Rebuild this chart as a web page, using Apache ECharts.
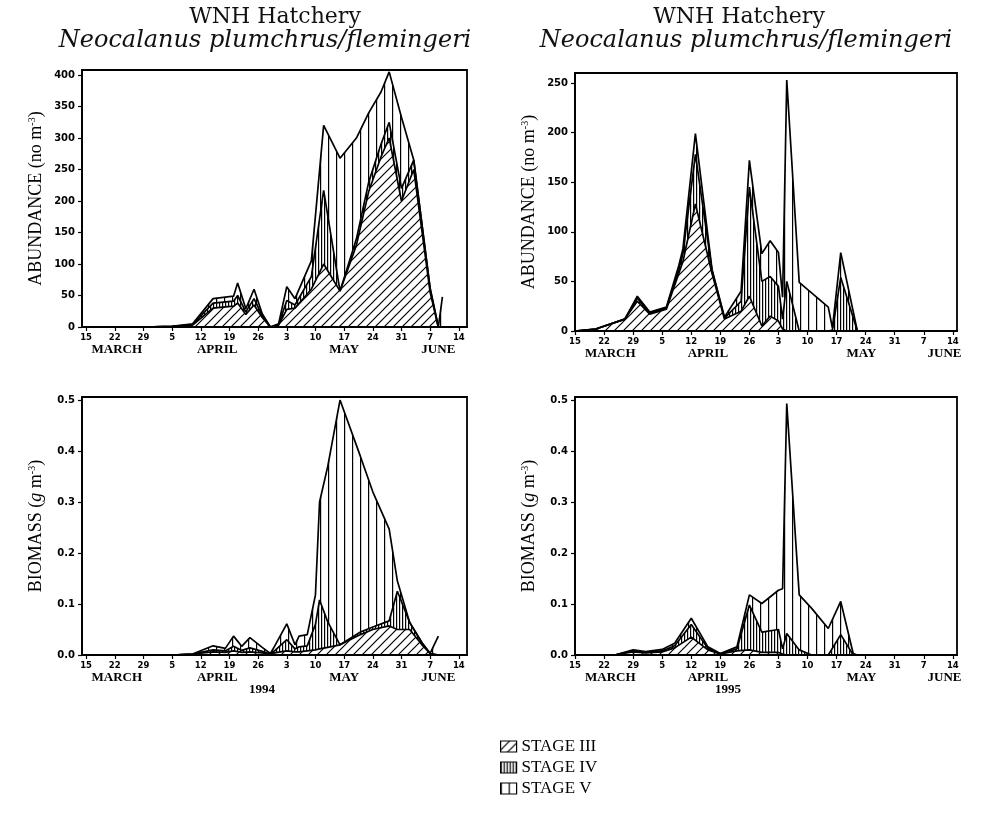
<!DOCTYPE html>
<html><head><meta charset="utf-8">
<script src="https://cdn.jsdelivr.net/npm/echarts@6/dist/echarts.min.js"></script>
<style>html,body{margin:0;padding:0;background:#fff}#c{width:990px;height:828px}</style>
</head><body><div id="c"></div>
<script>
// ---------- data ----------
const stages = ['STAGE III', 'STAGE IV', 'STAGE V'];
const tickDays = [0, 7, 14, 21, 28, 35, 42, 49, 56, 63, 70, 77, 84, 91];   // days since 15 March
const tickLabels = ['15', '22', '29', '5', '12', '19', '26', '3', '10', '17', '24', '31', '7', '14'];
const months = ['MARCH', 'APRIL', 'MAY', 'JUNE'];
const monthDays94 = [7.5, 32, 63, 86];
const monthDays95 = [8.5, 32, 69, 89];
const abundTicks94 = [0, 50, 100, 150, 200, 250, 300, 350, 400];
const abundTicks95 = [0, 50, 100, 150, 200, 250];
const bioTicks = [0, 0.1, 0.2, 0.3, 0.4, 0.5];

// 1994 abundance (no m-3), days since 15 March
const days94A = [0, 7, 14, 21, 26, 31, 36, 37, 39, 41, 43, 45, 47, 49, 51, 55, 58, 62, 66, 69, 72, 74, 77, 80, 84, 86, 87];
const abund94_III = [0,0,0,1,3,30,33,38,20,35,15,0,3,28,30,60,100,57,130,215,270,300,200,250,55,0,0];
const abund94_IV  = [0,0,0,0,1,8,8,12,4,10,3,0,1,14,5,20,117,0,10,15,20,25,20,15,5,0,0];
const abund94_V   = [0,0,0,0,1,7,8,20,5,15,3,0,1,22,10,25,103,211,160,110,83,80,113,0,2,0,48];

// 1994 biomass (g m-3)
const days94B = [0, 7, 14, 21, 26, 31, 34, 36, 38, 40, 43, 45, 46, 49, 51, 52, 54, 56, 57, 59, 62, 67, 70, 74, 76, 79, 82, 84, 86];
const bio94_III = [0,0,0,0,0.002,0.006,0.005,0.008,0.005,0.006,0.004,0.001,0.004,0.008,0.006,0.006,0.008,0.01,0.012,0.015,0.02,0.04,0.05,0.057,0.05,0.05,0.02,0.003,0];
const bio94_IV  = [0,0,0,0,0,0.004,0.003,0.009,0.004,0.008,0.003,0.001,0.004,0.022,0.006,0.01,0.01,0.05,0.096,0.05,0,0.005,0.005,0.01,0.075,0.014,0.004,0,0];
const bio94_V   = [0,0,0,0,0,0.008,0.005,0.02,0.008,0.02,0.008,0.001,0.009,0.031,0.008,0.021,0.022,0.058,0.192,0.305,0.48,0.344,0.265,0.18,0.02,0,0,0,0.037];

// 1995 abundance
const days95A = [0, 5, 12, 15, 18, 22, 25, 26, 29, 33, 36, 40, 42, 45, 47, 49, 50, 51, 54, 61, 62, 64, 68, 91];
const abund95_III = [0,2,12,30,17,22,58,70,128,58,12,20,35,5,15,10,2,0,0,0,0,0,0,0];
const abund95_IV  = [0,0,0,3,1,1,4,8,50,3,1,10,110,45,40,35,10,50,0,0,1,54,0,0];
const abund95_V   = [0,0,0,2,1,1,4,5,21,1,1,10,27,28,36,34,22,203,49,24,2,25,0,0];

// 1995 biomass
const days95B = [0, 10, 14, 17, 21, 24, 28, 32, 35, 39, 42, 45, 49, 50, 51, 54, 57, 61, 64, 67, 68, 91];
const bio95_III = [0,0.001,0.006,0.004,0.006,0.014,0.035,0.01,0.002,0.008,0.01,0.005,0.005,0.002,0,0,0,0,0,0,0,0];
const bio95_IV  = [0,0,0.002,0.001,0.002,0.004,0.025,0.003,0.0005,0.004,0.088,0.04,0.045,0.01,0.042,0.01,0,0,0.04,0,0,0];
const bio95_V   = [0,0,0.002,0.0015,0.003,0.005,0.012,0.003,0.0005,0.004,0.02,0.056,0.077,0.118,0.451,0.108,0.0915,0.052,0.065,0.003,0,0];

// ---------- helpers ----------
function hatch(kind) {
  const c = document.createElement('canvas');
  const g = c.getContext('2d');
  if (kind === 'diag') {
    const s = 9; c.width = s; c.height = s;
    g.strokeStyle = '#000'; g.lineWidth = 1.2;
    g.beginPath();
    g.moveTo(-1, s + 1); g.lineTo(s + 1, -1);
    g.moveTo(-2, 2); g.lineTo(2, -2);
    g.moveTo(s - 2, s + 2); g.lineTo(s + 2, s - 2);
    g.stroke();
  } else {
    const w = kind === 'dense' ? 3 : 8; c.width = w; c.height = 4;
    g.fillStyle = '#000'; g.fillRect(0, 0, 1.2, 4);
  }
  return { image: c, repeat: 'repeat' };
}
const patterns = [hatch('diag'), hatch('dense'), hatch('sparse')];

const font = 'DejaVu Sans';
const serif = 'Liberation Serif';

function xAxes(gridIndex, min, max, monthDays) {
  return [{
    type: 'value', gridIndex, min, max,
    axisLine: { show: true, onZero: false, lineStyle: { color: '#000', width: 1.8 } },
    axisTick: { show: true, inside: false, length: 4, lineStyle: { color: '#000', width: 1.2 }, customValues: tickDays },
    axisLabel: {
      customValues: tickDays, margin: 6,
      fontFamily: font, fontSize: 8.5, fontWeight: 'bold', color: '#000',
      formatter: v => tickLabels[tickDays.indexOf(Math.round(v))] || ''
    },
    splitLine: { show: false }
  }, {
    type: 'value', gridIndex, min, max, position: 'bottom',
    axisLine: { show: false }, axisTick: { show: false }, splitLine: { show: false },
    axisLabel: {
      customValues: monthDays, margin: 16,
      fontFamily: serif, fontSize: 13, fontWeight: 'bold', color: '#000',
      formatter: v => { let k = 0, best = 1e9; monthDays.forEach((m, i) => { if (Math.abs(m - v) < best) { best = Math.abs(m - v); k = i; } }); return months[k]; }
    }
  }];
}

function yAxis(gridIndex, max, ticks, name, isBio) {
  return {
    type: 'value', gridIndex, min: 0, max,
    name, nameLocation: 'middle', nameGap: 37, nameRotate: 90,
    nameTextStyle: {
      fontFamily: serif, fontSize: 18, color: '#000',
      rich: {
        s: { fontFamily: serif, fontSize: 10, color: '#000', verticalAlign: 'top', padding: [0, 0, 7, 0] },
        i: { fontFamily: serif, fontSize: 18, fontStyle: 'italic', color: '#000' }
      }
    },
    axisLine: { show: true, onZero: false, lineStyle: { color: '#000', width: 1.8 } },
    axisTick: { show: true, inside: false, length: 4, lineStyle: { color: '#000', width: 1.2 }, customValues: ticks },
    axisLabel: {
      customValues: ticks, margin: 7, fontFamily: font, fontSize: 10, fontWeight: 'bold', color: '#000',
      formatter: v => isBio ? v.toFixed(1) : String(v)
    },
    splitLine: { show: false }
  };
}

// data rows are [value, day] so that the stack is applied to the value dimension
function stageSeries(gridIndex, days, vals, stack) {
  return stages.map((name, k) => ({
    type: 'line', name, stack,
    xAxisIndex: gridIndex * 2, yAxisIndex: gridIndex,
    data: days.map((d, i) => [vals[k][i], d]),
    encode: { x: 1, y: 0 },
    symbol: 'none', showSymbol: false,
    lineStyle: { color: '#000', width: 1.7 },
    itemStyle: { color: '#000' },
    areaStyle: { color: patterns[k], opacity: 1 },
    emphasis: { disabled: true },
    animation: false
  }));
}

const titleStyle = { fontFamily: 'DejaVu Serif', fontSize: 22, fontWeight: 'normal', color: '#111' };
const subStyle = { fontFamily: 'DejaVu Serif', fontSize: 24, fontStyle: 'italic', fontWeight: 'normal', color: '#111' };
const yearStyle = { fontFamily: serif, fontSize: 13, fontWeight: 'bold', color: '#000' };

const option = {
  backgroundColor: '#fff',
  animation: false,
  title: [
    { text: 'WNH Hatchery', left: 275, top: 6, textAlign: 'center', padding: 0, textStyle: titleStyle },
    { text: 'Neocalanus plumchrus/flemingeri', left: 265, top: 29, textAlign: 'center', padding: 0, textStyle: subStyle },
    { text: 'WNH Hatchery', left: 739, top: 6, textAlign: 'center', padding: 0, textStyle: titleStyle },
    { text: 'Neocalanus plumchrus/flemingeri', left: 746, top: 29, textAlign: 'center', padding: 0, textStyle: subStyle },
    { text: '1994', left: 262, top: 683, textAlign: 'center', padding: 0, textStyle: yearStyle },
    { text: '1995', left: 728, top: 683, textAlign: 'center', padding: 0, textStyle: yearStyle }
  ],
  legend: {
    orient: 'vertical', left: 495, top: 733, itemWidth: 16, itemHeight: 11, itemGap: 4,
    selectedMode: false,
    textStyle: { fontFamily: serif, fontSize: 17, color: '#000', lineHeight: 17 },
    data: stages.map((s, k) => ({ name: s, icon: 'rect', itemStyle: { color: patterns[k], borderColor: '#000', borderWidth: 1.2 } }))
  },
  grid: [
    { left: 82, top: 70, width: 385, height: 257 },
    { left: 82, top: 397, width: 385, height: 258 },
    { left: 575, top: 73, width: 382, height: 258 },
    { left: 575, top: 397, width: 382, height: 258 }
  ].map(g => Object.assign(g, { show: true, borderColor: '#000', borderWidth: 1.8, backgroundColor: 'transparent', containLabel: false })),
  xAxis: [].concat(
    xAxes(0, -1, 93, monthDays94),
    xAxes(1, -1, 93, monthDays94),
    xAxes(2, 0, 92, monthDays95),
    xAxes(3, 0, 92, monthDays95)
  ),
  yAxis: [
    yAxis(0, 408, abundTicks94, 'ABUNDANCE (no m{s|-3})', false),
    yAxis(1, 0.506, bioTicks, 'BIOMASS ({i|g} m{s|-3})', true),
    yAxis(2, 260, abundTicks95, 'ABUNDANCE (no m{s|-3})', false),
    yAxis(3, 0.506, bioTicks, 'BIOMASS ({i|g} m{s|-3})', true)
  ],
  series: [].concat(
    stageSeries(0, days94A, [abund94_III, abund94_IV, abund94_V], 'a94'),
    stageSeries(1, days94B, [bio94_III, bio94_IV, bio94_V], 'b94'),
    stageSeries(2, days95A, [abund95_III, abund95_IV, abund95_V], 'a95'),
    stageSeries(3, days95B, [bio95_III, bio95_IV, bio95_V], 'b95')
  )
};

const chart = echarts.init(document.getElementById('c'), null, { renderer: 'canvas' });
chart.setOption(option);
</script>
</body></html>
